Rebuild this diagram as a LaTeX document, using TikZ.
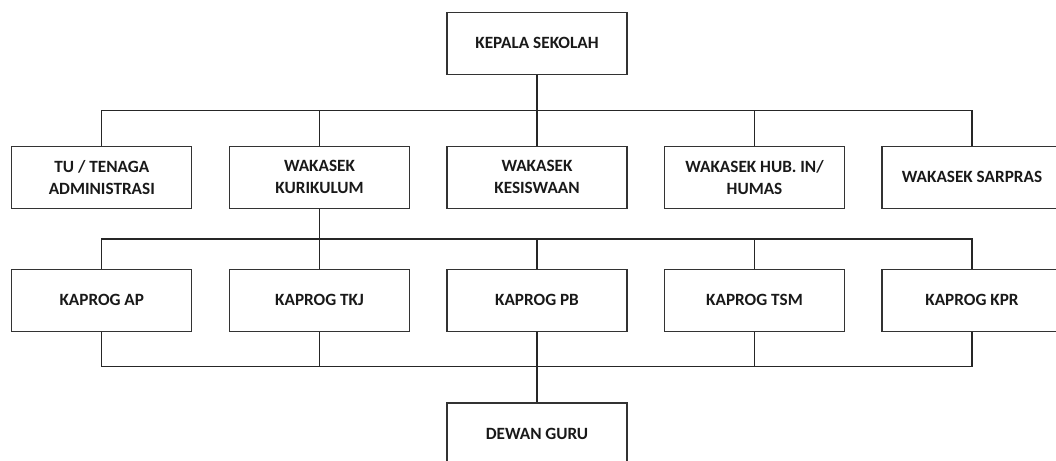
\documentclass[tikz,border=0pt]{standalone}
\usepackage{fontspec}
\setmainfont{Carlito}
\begin{document}
\begin{tikzpicture}[x=1pt,y=-1pt,
  box/.style={draw=black!80,line width=1.3pt,minimum width=180pt,minimum height=62pt,
    align=center,font=\bfseries\fontsize{17.2}{22}\selectfont,text=black!90,inner sep=0pt},
  conn/.style={draw=black!85,line width=1.3pt}]
\useasboundingbox (0,0) rectangle (1056,460);
\clip (0,0) rectangle (1056,460);
\node[box] (top) at (537,43.3) {KEPALA SEKOLAH};
\node[box] (tu) at (101.8,177.3) {TU / TENAGA\\ADMINISTRASI};
\node[box] (kur) at (319.5,177.3) {WAKASEK\\KURIKULUM};
\node[box] (kes) at (537,177.3) {WAKASEK\\KESISWAAN};
\node[box] (hub) at (754.5,177.3) {WAKASEK HUB. IN/\\HUMAS};
\node[box] (sar) at (972,177.3) {WAKASEK SARPRAS};
\node[box] (ap) at (101.8,300.2) {KAPROG AP};
\node[box] (tkj) at (319.5,300.2) {KAPROG TKJ};
\node[box] (pb) at (537,300.2) {KAPROG PB};
\node[box] (tsm) at (754.5,300.2) {KAPROG TSM};
\node[box] (kpr) at (972,300.2) {KAPROG KPR};
\node[box] (dg) at (537,434) {DEWAN GURU};
\coordinate (b1) at (537,110.7);
\coordinate (b2) at (537,239);
\coordinate (b3) at (537,366.7);
% level 1
\draw[conn] (top.south) -- (b1);
\draw[conn] (tu.north) |- (b1) -| (sar.north);
\draw[conn] (kur.north) -- (kur.north |- b1);
\draw[conn] (kes.north) -- (b1);
\draw[conn] (hub.north) -- (hub.north |- b1);
% level 2
\draw[conn] (kur.south) -- (tkj.north);
\draw[conn] (ap.north) |- (b2) -| (kpr.north);
\draw[conn] (pb.north) -- (b2);
\draw[conn] (tsm.north) -- (tsm.north |- b2);
% level 3
\draw[conn] (ap.south) |- (b3) -| (kpr.south);
\draw[conn] (tkj.south) -- (tkj.south |- b3);
\draw[conn] (tsm.south) -- (tsm.south |- b3);
\draw[conn] (pb.south) -- (dg.north);
\end{tikzpicture}
\end{document}
